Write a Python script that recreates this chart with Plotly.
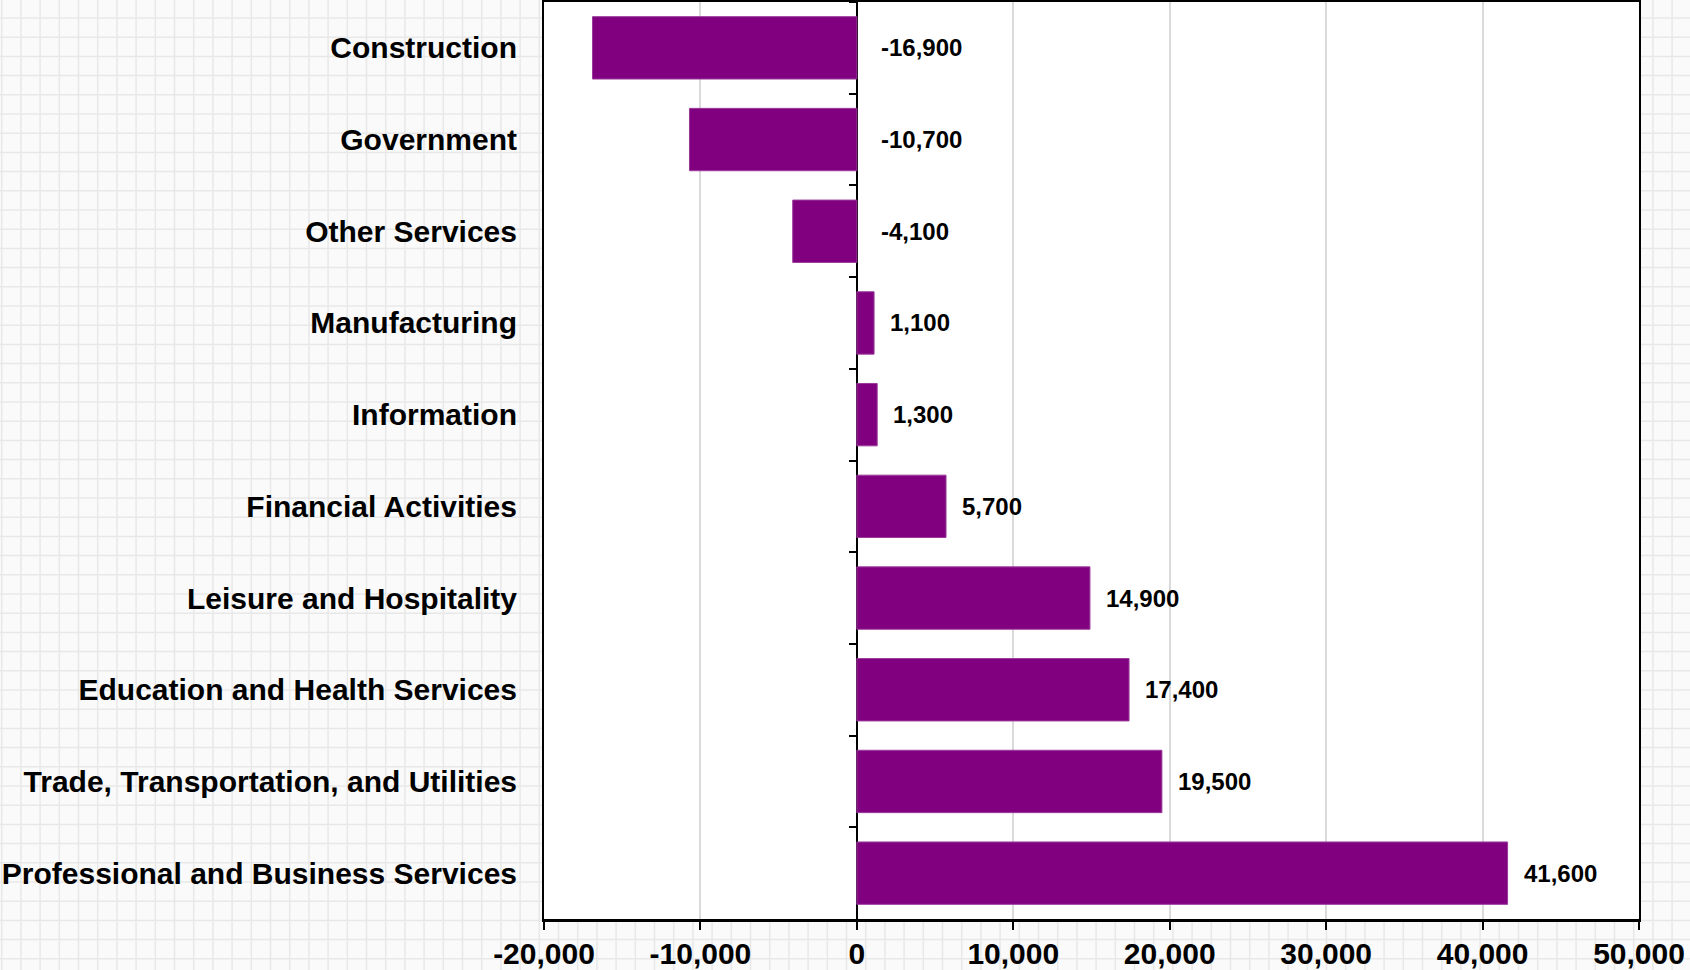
import base64
import plotly.graph_objects as go

categories = [
    "Construction",
    "Government",
    "Other Services",
    "Manufacturing",
    "Information",
    "Financial Activities",
    "Leisure and Hospitality",
    "Education and Health Services",
    "Trade, Transportation, and Utilities",
    "Professional and Business Services",
]
changes = [-16900, -10700, -4100, 1100, 1300, 5700, 14900, 17400, 19500, 41600]
x_ticks = [-20000, -10000, 0, 10000, 20000, 30000, 40000, 50000]

W, H = 1690, 970
ml, mr, mt, mb = 544, 51, 2, 51
pw, ph = W - ml - mr, H - mt - mb

# graph-paper background, drawn as an svg image behind everything
cell = 19.2
grid = []
x = 1.7
while x < W:
    grid.append(f'<line x1="{x:.1f}" y1="0" x2="{x:.1f}" y2="{H}"/>')
    x += cell
y = 18.0
while y < H:
    grid.append(f'<line x1="0" y1="{y:.1f}" x2="{W}" y2="{y:.1f}"/>')
    y += cell
svg = (
    f'<svg xmlns="http://www.w3.org/2000/svg" width="{W}" height="{H}">'
    f'<rect width="{W}" height="{H}" fill="#fafafa"/>'
    f'<g stroke="#e8e8e8" stroke-width="1.5">{"".join(grid)}</g>'
    f'<rect x="{ml}" y="{mt}" width="{pw}" height="{ph}" fill="#ffffff"/>'
    "</svg>"
)
bg_src = "data:image/svg+xml;base64," + base64.b64encode(svg.encode()).decode()

bold = dict(family="Liberation Sans, Arial, sans-serif", color="black", weight="bold")

fig = go.Figure()
fig.add_trace(go.Bar(
    x=changes, y=categories, orientation="h",
    marker=dict(color="#800080", line=dict(color="#9a3a9a", width=1)),
    hoverinfo="x+y",
))
# invisible trace so the zero-line axis knows the categories
fig.add_trace(go.Scatter(
    x=[0] * len(categories), y=categories, yaxis="y2", mode="markers",
    marker=dict(opacity=0), hoverinfo="skip", showlegend=False,
))

for c, v in zip(categories, changes):
    fig.add_annotation(
        x=max(v, 0), y=c, text=f"{v:,}", showarrow=False,
        xanchor="left", yanchor="middle", xshift=22 if v < 0 else 14,
        font=dict(size=24, **bold),
    )

fig.update_layout(
    width=W, height=H,
    margin=dict(l=ml, r=mr, t=mt, b=mb),
    paper_bgcolor="#fafafa",
    plot_bgcolor="white",
    showlegend=False,
    bargap=0.32,
    images=[dict(
        source=bg_src, xref="paper", yref="paper",
        x=-ml / pw, y=1 + mt / ph, sizex=W / pw, sizey=H / ph,
        xanchor="left", yanchor="top", sizing="stretch", layer="below",
    )],
    xaxis=dict(
        range=[-20000, 50000], automargin=False,
        tickvals=x_ticks, ticktext=[f"{v:,}" for v in x_ticks],
        tickfont=dict(size=30, **bold),
        showgrid=True, gridcolor="#dadada", gridwidth=1.5,
        zeroline=True, zerolinecolor="black", zerolinewidth=2,
        showline=True, linecolor="black", linewidth=2.5, mirror=True,
        ticks="outside", ticklen=8, tickwidth=2, tickcolor="black",
        ticklabelstandoff=-2,
    ),
    yaxis=dict(
        type="category", range=[9.5, -0.5], automargin=False,
        tickfont=dict(size=30, **bold),
        showgrid=False, ticks="",
        showline=True, linecolor="black", linewidth=2, mirror=True,
        ticklabelstandoff=19,
    ),
    yaxis2=dict(
        type="category", range=[9.5, -0.5], overlaying="y", automargin=False,
        anchor="free", position=20000 / 70000,
        tickson="boundaries", ticks="outside", ticklen=8, tickwidth=1.5, tickcolor="black",
        showticklabels=False, showgrid=False, showline=False, zeroline=False,
    ),
)

# the page's default body margin would push the chart 8px off the window
fig.write_html(
    "out.html",
    config={"displayModeBar": False},
    post_script="document.body.style.margin = '0';",
)
